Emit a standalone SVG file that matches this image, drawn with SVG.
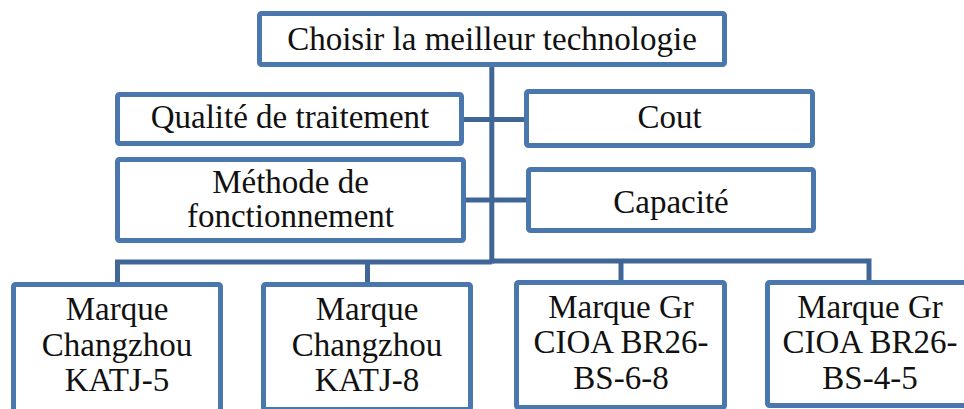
<svg xmlns="http://www.w3.org/2000/svg" width="964" height="409" viewBox="0 0 964 409">
<style>
.box{fill:#fff;stroke:#4A77AE;stroke-width:5}
.con{fill:none;stroke:#3F6697;stroke-width:5}
text{font-family:'Liberation Serif','Times New Roman',serif;font-size:33px;fill:#111;text-anchor:middle}
</style>
<rect width="964" height="409" fill="#fff"/>
<g id="connectors">
<path class="con" d="M491.8 66V263.5"/>
<path class="con" d="M463 119.5H525"/>
<path class="con" d="M465 200H527"/>
<path class="con" d="M117.5 283V262H491.8M491.8 261H869V282"/>
<path class="con" d="M367.5 262V283M621 261V281"/>
</g>
<g font-family="Liberation Serif, Times New Roman, serif">
<g id="n-top"><rect class="box" x="259.5" y="13.5" width="465" height="51" rx="2"/><text x="492" y="50">Choisir la meilleur technologie</text></g>
<g id="n-qualite"><rect class="box" x="117.5" y="94.5" width="344" height="49" rx="2"/><text x="290" y="128">Qualité de traitement</text></g>
<g id="n-cout"><rect class="box" x="526.5" y="91.5" width="286" height="54" rx="2"/><text x="669.5" y="128">Cout</text></g>
<g id="n-methode"><rect class="box" x="117.5" y="159.5" width="346" height="81" rx="2"/><text x="290.5" y="193">Méthode de</text><text x="290.5" y="227">fonctionnement</text></g>
<g id="n-capacite"><rect class="box" x="528.5" y="169.5" width="285" height="61" rx="2"/><text x="671" y="213">Capacité</text></g>
<g id="n-katj5"><rect class="box" x="13.5" y="284.5" width="207" height="140" rx="2"/><text x="117" y="320">Marque</text><text x="117" y="356">Changzhou</text><text x="117" y="391">KATJ-5</text></g>
<g id="n-katj8"><rect class="box" x="263.5" y="284.5" width="207" height="125" rx="2"/><text x="367" y="320">Marque</text><text x="367" y="356">Changzhou</text><text x="367" y="391">KATJ-8</text></g>
<g id="n-br26-68"><rect class="box" x="516.5" y="282.5" width="208" height="125" rx="2"/><text x="621" y="318">Marque Gr</text><text x="621" y="353">CIOA BR26-</text><text x="621" y="389">BS-6-8</text></g>
<g id="n-br26-45"><rect class="box" x="767.5" y="282.5" width="210" height="123" rx="2"/><text x="870" y="318">Marque Gr</text><text x="870" y="353">CIOA BR26-</text><text x="870" y="389">BS-4-5</text></g>
</g>
</svg>
